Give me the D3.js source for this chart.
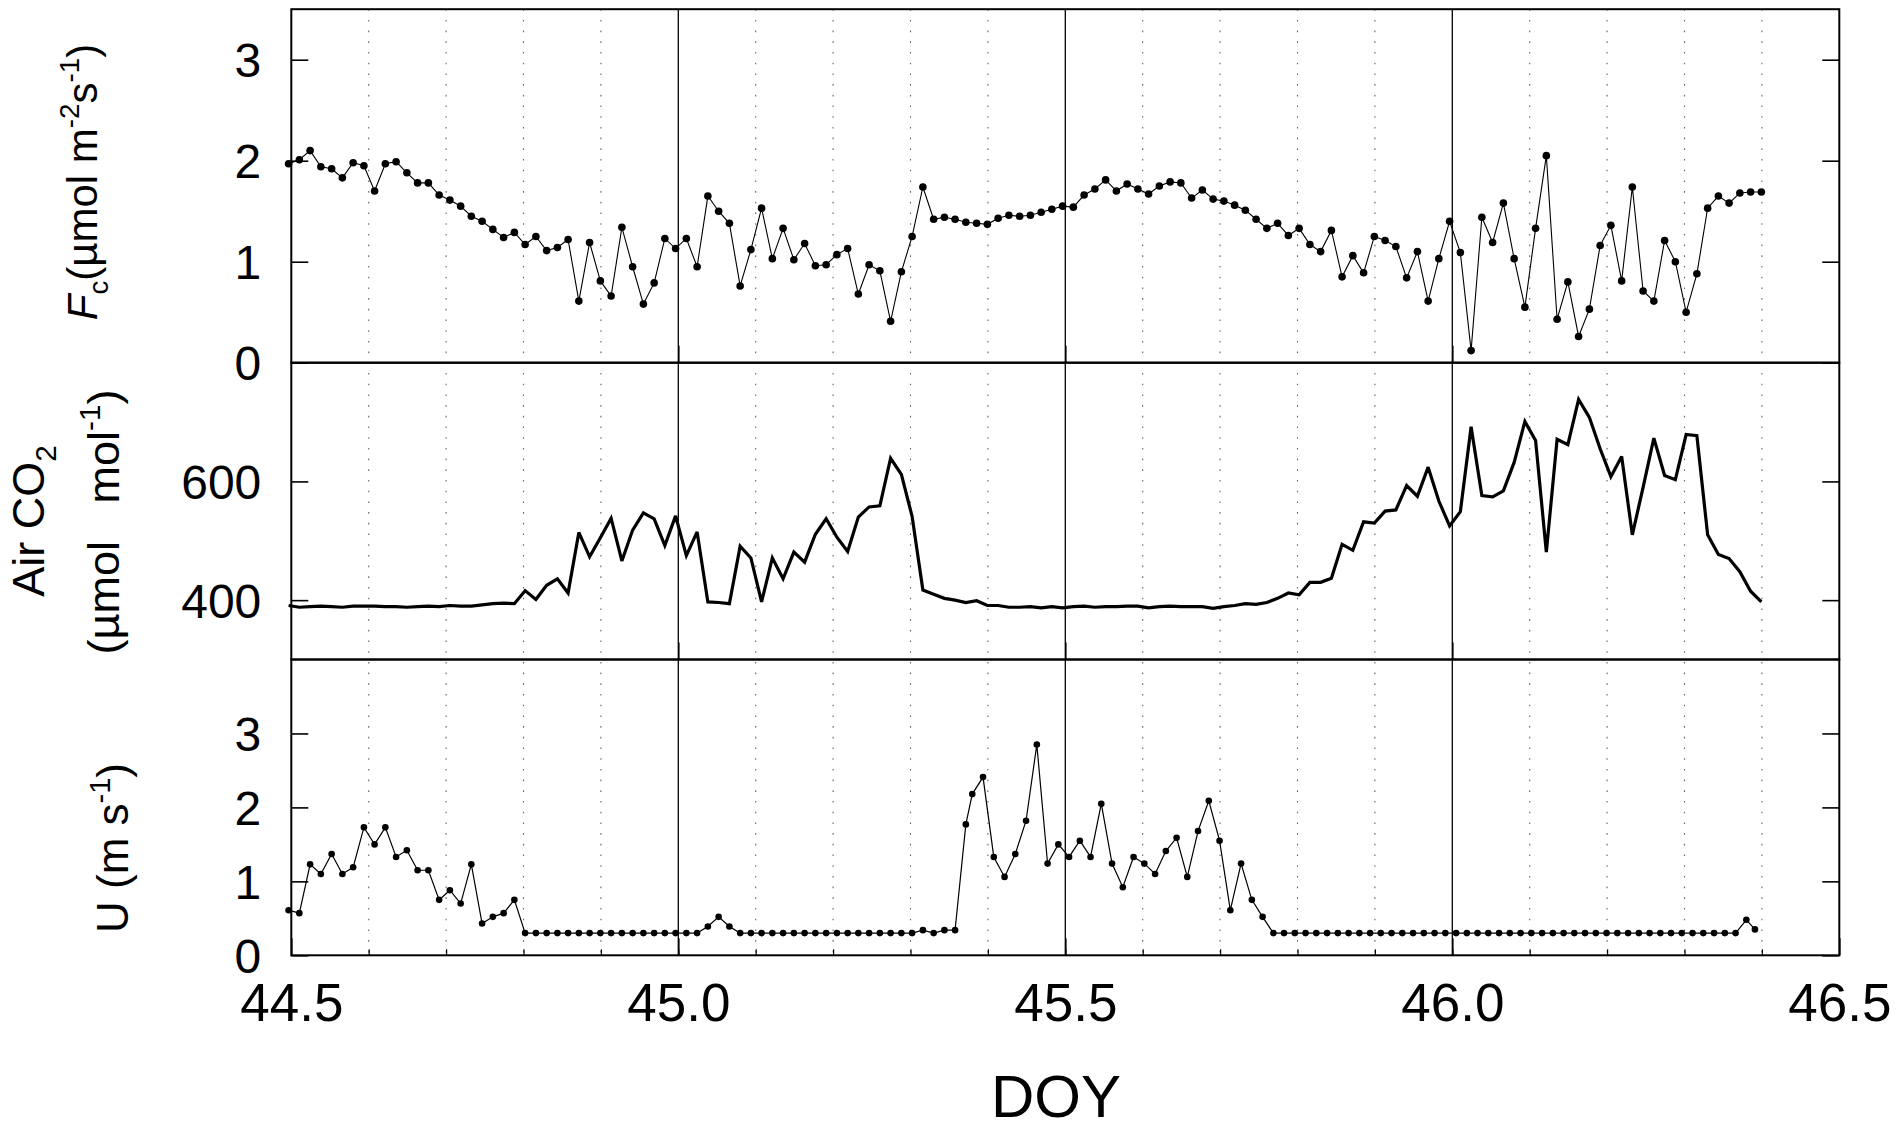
<!DOCTYPE html>
<html><head><meta charset="utf-8">
<script src="https://cdn.jsdelivr.net/npm/d3@7"></script>
<style>body{margin:0;background:#fff}svg{display:block;background:#fff}text{font-family:"Liberation Sans",Arial,sans-serif;fill:#000}</style>
</head><body><svg id="c" width="1897" height="1135"></svg>
<script>
// Day of year of each sample (20-min data)
const doy = [
44.4965,44.5104,44.5243,44.5382,44.5521,44.5660,44.5799,44.5938,44.6076,44.6215,
44.6354,44.6493,44.6632,44.6771,44.6910,44.7049,44.7188,44.7326,44.7465,44.7604,
44.7743,44.7882,44.8021,44.8160,44.8299,44.8438,44.8576,44.8715,44.8854,44.8993,
44.9132,44.9271,44.9410,44.9549,44.9688,44.9826,44.9965,45.0104,45.0243,45.0382,
45.0521,45.0660,45.0799,45.0938,45.1076,45.1215,45.1354,45.1493,45.1632,45.1771,
45.1910,45.2049,45.2188,45.2326,45.2465,45.2604,45.2743,45.2882,45.3021,45.3160,
45.3299,45.3438,45.3576,45.3715,45.3854,45.3993,45.4132,45.4271,45.4410,45.4549,
45.4688,45.4826,45.4965,45.5104,45.5243,45.5382,45.5521,45.5660,45.5799,45.5938,
45.6076,45.6215,45.6354,45.6493,45.6632,45.6771,45.6910,45.7049,45.7188,45.7326,
45.7465,45.7604,45.7743,45.7882,45.8021,45.8160,45.8299,45.8438,45.8576,45.8715,
45.8854,45.8993,45.9132,45.9271,45.9410,45.9549,45.9688,45.9826,45.9965,46.0104,
46.0243,46.0382,46.0521,46.0660,46.0799,46.0938,46.1076,46.1215,46.1354,46.1493,
46.1632,46.1771,46.1910,46.2049,46.2188,46.2326,46.2465,46.2604,46.2743,46.2882,
46.3021,46.3160,46.3299,46.3438,46.3576,46.3715,46.3854,46.3993];
// Day of year of the wind samples
const uDoy = [
44.4965,44.5104,44.5243,44.5382,44.5521,44.5660,44.5799,44.5938,44.6076,44.6215,
44.6354,44.6493,44.6632,44.6771,44.6910,44.7049,44.7188,44.7326,44.7465,44.7604,
44.7743,44.7882,44.8021,44.8160,44.8299,44.8438,44.8576,44.8715,44.8854,44.8993,
44.9132,44.9271,44.9410,44.9549,44.9688,44.9826,44.9965,45.0104,45.0243,45.0382,
45.0521,45.0660,45.0799,45.0938,45.1076,45.1215,45.1354,45.1493,45.1632,45.1771,
45.1910,45.2049,45.2188,45.2326,45.2465,45.2604,45.2743,45.2882,45.3021,45.3160,
45.3299,45.3438,45.3576,45.3715,45.3798,45.3937,45.4076,45.4215,45.4354,45.4493,
45.4632,45.4771,45.4910,45.5049,45.5188,45.5326,45.5465,45.5604,45.5743,45.5882,
45.6021,45.6160,45.6299,45.6438,45.6576,45.6715,45.6854,45.6993,45.7132,45.7271,
45.7410,45.7549,45.7688,45.7826,45.7965,45.8104,45.8243,45.8382,45.8521,45.8660,
45.8799,45.8938,45.9076,45.9215,45.9354,45.9493,45.9632,45.9771,45.9910,46.0049,
46.0188,46.0326,46.0465,46.0604,46.0743,46.0882,46.1021,46.1160,46.1299,46.1438,
46.1576,46.1715,46.1854,46.1993,46.2132,46.2271,46.2410,46.2549,46.2688,46.2826,
46.2965,46.3104,46.3243,46.3382,46.3521,46.3660,46.3799,46.3910];
// CO2 flux Fc (umol m-2 s-1)
const fc = [
1.97,2.01,2.10,1.94,1.92,1.83,1.98,1.95,1.70,1.97,
1.99,1.88,1.78,1.78,1.66,1.61,1.55,1.45,1.40,1.32,
1.24,1.29,1.17,1.25,1.11,1.14,1.22,0.61,1.19,0.81,
0.66,1.34,0.95,0.58,0.79,1.23,1.13,1.23,0.95,1.65,
1.50,1.38,0.76,1.12,1.53,1.03,1.33,1.02,1.18,0.96,
0.97,1.07,1.13,0.68,0.97,0.91,0.41,0.90,1.25,1.74,
1.42,1.44,1.42,1.39,1.38,1.37,1.43,1.46,1.45,1.46,
1.49,1.52,1.55,1.54,1.66,1.72,1.81,1.70,1.77,1.72,
1.67,1.75,1.79,1.78,1.63,1.71,1.62,1.60,1.56,1.51,
1.42,1.33,1.38,1.26,1.33,1.17,1.10,1.31,0.85,1.06,
0.89,1.25,1.21,1.15,0.84,1.10,0.61,1.03,1.40,1.09,
0.12,1.44,1.19,1.58,1.03,0.55,1.33,2.05,0.43,0.80,
0.26,0.53,1.16,1.36,0.81,1.74,0.71,0.61,1.21,1.00,
0.50,0.88,1.53,1.65,1.58,1.68,1.69,1.69];
// Air CO2 (umol mol-1)
const co2 = [
391,388,389,390,389,388,390,390,390,389,
389,388,389,390,389,391,390,390,392,394,
395,394,416,401,425,436,412,514,473,505,
538,466,518,547,537,492,542,475,515,397,
396,394,491,471,397,471,436,481,464,511,
537,506,482,540,557,559,639,612,541,417,
410,403,400,396,399,391,391,388,388,389,
387,389,387,389,390,388,389,389,390,390,
387,389,390,389,389,389,386,389,391,394,
393,396,403,412,409,430,430,437,494,484,
532,530,550,552,593,575,624,567,525,549,
692,576,574,584,632,701,669,481,671,662,
738,708,655,608,642,510,590,673,610,603,
679,677,510,477,470,448,415,397];
// Wind speed U (m s-1)
const windU = [
0.61,0.57,1.23,1.10,1.37,1.10,1.19,1.73,1.50,1.73,
1.33,1.42,1.15,1.15,0.75,0.88,0.70,1.23,0.43,0.52,
0.57,0.75,0.30,0.30,0.30,0.30,0.30,0.30,0.30,0.30,
0.30,0.30,0.30,0.30,0.30,0.30,0.30,0.30,0.30,0.39,
0.52,0.39,0.30,0.30,0.30,0.30,0.30,0.30,0.30,0.30,
0.30,0.30,0.30,0.30,0.30,0.30,0.30,0.30,0.30,0.34,
0.30,0.34,0.34,1.77,2.18,2.41,1.33,1.06,1.37,1.82,
2.85,1.24,1.50,1.33,1.55,1.33,2.05,1.24,0.92,1.33,
1.24,1.10,1.41,1.59,1.06,1.68,2.09,1.55,0.61,1.24,
0.75,0.52,0.30,0.30,0.30,0.30,0.30,0.30,0.30,0.30,
0.30,0.30,0.30,0.30,0.30,0.30,0.30,0.30,0.30,0.30,
0.30,0.30,0.30,0.30,0.30,0.30,0.30,0.30,0.30,0.30,
0.30,0.30,0.30,0.30,0.30,0.30,0.30,0.30,0.30,0.30,
0.30,0.30,0.30,0.30,0.30,0.30,0.48,0.35];

const xTickValues = [44.5, 45.0, 45.5, 46.0, 46.5];
const majorDays = [45.0, 45.5, 46.0];
const gridDays = [44.6,44.7,44.8,44.9,45.1,45.2,45.3,45.4,45.6,45.7,45.8,45.9,46.1,46.2,46.3,46.4];
const minorDays = [44.6,44.7,44.8,44.9,45.0,45.1,45.2,45.3,45.4,45.5,45.6,45.7,45.8,45.9,46.0,46.1,46.2,46.3,46.4];
const fcTicks = [0, 1, 2, 3];
const co2Ticks = [400, 600];
const uTicks = [0, 1, 2, 3];

const svg = d3.select("#c");
svg.append("rect").attr("width",1897).attr("height",1135).attr("fill","#fff");
const L = 291.3, R = 1839.3;
const x = d3.scaleLinear().domain([44.5, 46.5]).range([L, R]);
const yFc  = d3.scaleLinear().domain([0, 3.5]).range([362.7, 9.2]);
const yCo2 = d3.scaleLinear().domain([300, 800]).range([659.5, 362.7]);
const yU   = d3.scaleLinear().domain([0, 4]).range([955.3, 659.5]);
const TOP = 9.2, BOT = 955.3;

// grid
const grid = svg.append("g");
grid.selectAll("line.dot").data(gridDays).join("line")
  .attr("x1", d => x(d)).attr("x2", d => x(d)).attr("y1", TOP).attr("y2", BOT)
  .attr("stroke", "#666").attr("stroke-width", 1.1).attr("stroke-dasharray", "1.6,9.1");
grid.selectAll("line.maj").data(majorDays).join("line")
  .attr("x1", d => x(d)).attr("x2", d => x(d)).attr("y1", TOP).attr("y2", BOT)
  .attr("stroke", "#000").attr("stroke-width", 1.3);

// data
const idx = d3.range(doy.length);
const lineFc = d3.line().x(i => x(doy[i])).y(i => yFc(fc[i]));
svg.append("path").attr("d", lineFc(idx)).attr("fill","none").attr("stroke","#000").attr("stroke-width",1.1);
svg.append("g").selectAll("circle").data(idx).join("circle")
  .attr("cx", i => x(doy[i])).attr("cy", i => yFc(fc[i])).attr("r", 3.8).attr("fill","#000");

const lineCo2 = d3.line().x(i => x(doy[i])).y(i => yCo2(co2[i]));
svg.append("path").attr("d", lineCo2(idx)).attr("fill","none").attr("stroke","#000")
  .attr("stroke-width",3.2).attr("stroke-linejoin","miter").attr("stroke-miterlimit",3);

const uIdx = d3.range(uDoy.length);
const lineU = d3.line().x(i => x(uDoy[i])).y(i => yU(windU[i]));
svg.append("path").attr("d", lineU(uIdx)).attr("fill","none").attr("stroke","#000").attr("stroke-width",1.2);
svg.append("g").selectAll("circle").data(uIdx).join("circle")
  .attr("cx", i => x(uDoy[i])).attr("cy", i => yU(windU[i])).attr("r", 3.3).attr("fill","#000");

// axes
const TL = 17;
function styleAxis(g, size) {
  g.select(".domain").remove();
  g.selectAll(".tick line").attr("stroke","#000").attr("stroke-width",1.6);
  g.selectAll(".tick text").attr("font-size", size).attr("font-family", '"Liberation Sans",Arial,sans-serif').attr("fill","#000");
  g.attr("font-family", null).attr("font-size", null);
}
[[yFc, fcTicks], [yCo2, co2Ticks], [yU, uTicks]].forEach(([ys, tv]) => {
  const gl = svg.append("g").attr("transform", `translate(${L},0)`)
    .call(d3.axisLeft(ys).tickValues(tv).tickSizeInner(-TL).tickSizeOuter(0).tickPadding(30).tickFormat(d3.format("d")));
  styleAxis(gl, 48);
  gl.selectAll(".tick text").attr("dy", "0.36em");
  const gr = svg.append("g").attr("transform", `translate(${R},0)`)
    .call(d3.axisRight(ys).tickValues(tv).tickSizeInner(-TL).tickSizeOuter(0).tickFormat(""));
  styleAxis(gr, 48);
});
// major ticks at the bottom of each panel
[362.7, 659.5].forEach(yb => {
  const g = svg.append("g").attr("transform", `translate(0,${yb})`)
    .call(d3.axisBottom(x).tickValues(majorDays).tickSizeInner(-TL).tickSizeOuter(0).tickFormat(""));
  styleAxis(g, 10);
});
const gMinor = svg.append("g").attr("transform", `translate(0,${BOT})`)
  .call(d3.axisBottom(x).tickValues(minorDays).tickSizeInner(-6).tickSizeOuter(0).tickFormat(""));
styleAxis(gMinor, 10);
gMinor.selectAll(".tick line").attr("stroke-width",1.2);
const gx = svg.append("g").attr("transform", `translate(0,${BOT})`)
  .call(d3.axisBottom(x).tickValues(xTickValues).tickSizeInner(-TL).tickSizeOuter(0).tickPadding(28).tickFormat(d3.format(".1f")));
styleAxis(gx, 53);

// frames
[[9.2, 362.7], [362.7, 659.5], [659.5, 955.3]].forEach(([t, b]) => {
  svg.append("rect").attr("x", L).attr("y", t).attr("width", R - L).attr("height", b - t)
    .attr("fill","none").attr("stroke","#000").attr("stroke-width",2);
});

// titles
function richText(cx, cy, segs, size) {
  const t = svg.append("text").attr("transform", `translate(${cx},${cy}) rotate(-90)`)
    .attr("text-anchor","middle").attr("font-size", size).attr("xml:space","preserve");
  let shift = 0;
  segs.forEach(s => {
    const fs = s.k ? size * 0.66 : size;
    const target = s.k === "sub" ? size * 0.26 : s.k === "sup" ? -size * 0.42 : 0;
    const ts = t.append("tspan").attr("font-size", fs).attr("dy", target - shift).text(s.t);
    if (s.i) ts.attr("font-style", "italic");
    shift = target;
  });
  return t;
}
richText(97, 182, [{t:"F", i:true}, {t:"c", k:"sub"}, {t:"(\u00b5mol m"}, {t:"-2", k:"sup"}, {t:"s"}, {t:"-1", k:"sup"}, {t:")"}], 42);
richText(44, 521, [{t:"Air CO"}, {t:"2", k:"sub"}], 45);
richText(119, 522, [{t:"(\u00b5mol\u00a0\u00a0\u00a0mol"}, {t:"-1", k:"sup"}, {t:")"}], 45);
richText(128, 848, [{t:"U (m s"}, {t:"-1", k:"sup"}, {t:")"}], 44);

svg.append("text").attr("x", 1056).attr("y", 1117).attr("text-anchor","middle")
  .attr("font-size", 60).text("DOY");
</script></body></html>
